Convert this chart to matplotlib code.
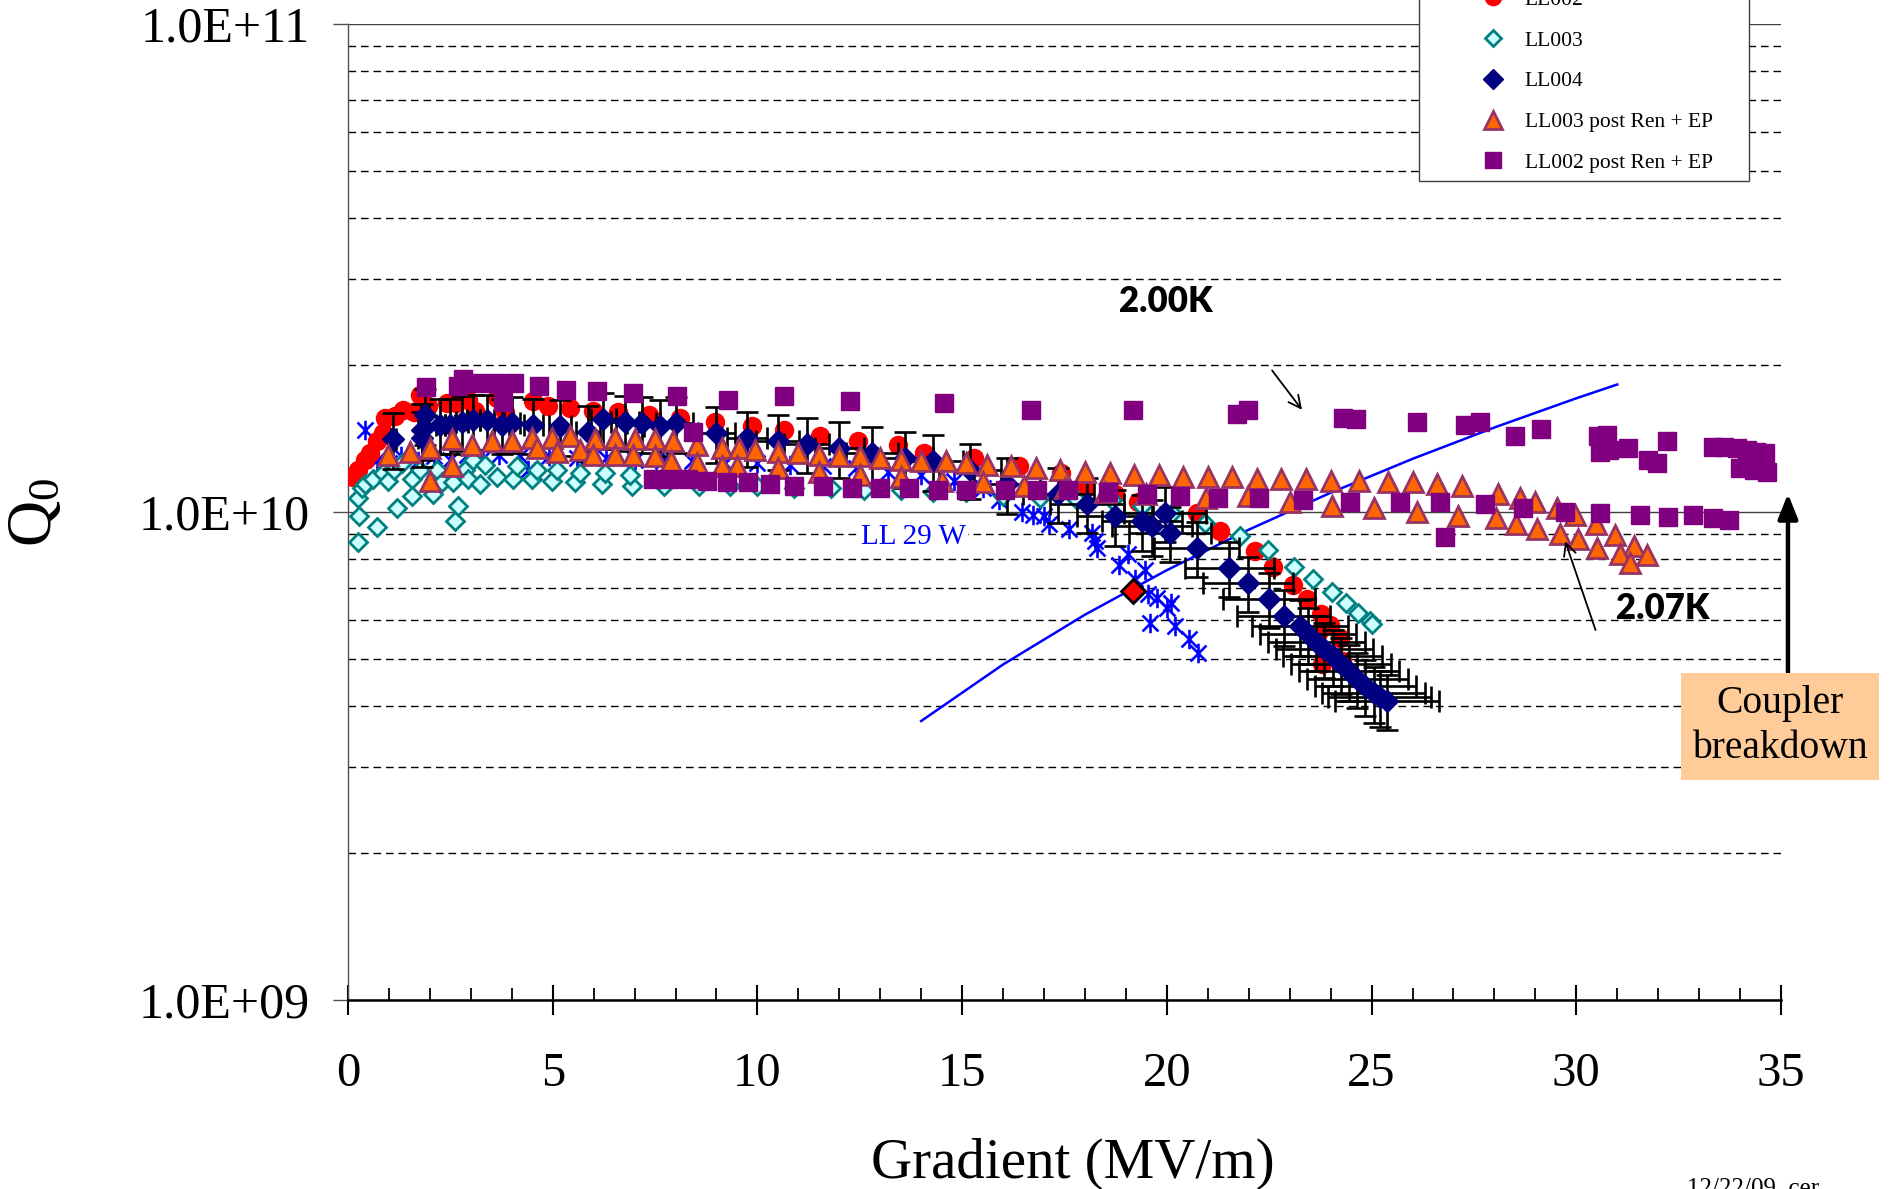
import matplotlib
matplotlib.use('Agg')
import matplotlib.pyplot as plt
from matplotlib.patches import Rectangle
from matplotlib.lines import Line2D
from matplotlib.path import Path
from matplotlib.ticker import MultipleLocator, LogLocator, NullFormatter

plt.rcParams['font.family'] = ['Liberation Serif', 'DejaVu Serif']
plt.rcParams['mathtext.fontset'] = 'custom'
plt.rcParams['mathtext.rm'] = 'Liberation Serif'
plt.rcParams['mathtext.it'] = 'Liberation Serif:italic'

W, H = 1891, 1189

# ---------------- data ----------------
# LL001 (blue stars)
ll001_grad = [0.42, 0.7, 1.0, 1.3, 1.7, 2.1, 2.5, 2.9, 3.3, 3.7, 4.2, 4.4, 4.9, 5.6, 6.3,
              7.0, 7.7, 8.4, 9.2, 10.0, 10.8, 11.6, 12.4, 13.2, 14.0, 14.8, 15.5, 15.9,
              16.46, 16.74, 17.0, 17.13, 17.6, 18.17, 18.25, 18.29, 18.82, 19.06, 19.22,
              19.47, 19.55, 19.59, 19.75, 20.0, 20.1, 20.2, 20.53, 20.77]
ll001_q0 = [1.47e10, 1.28e10, 1.26e10, 1.30e10, 1.27e10, 1.30e10, 1.28e10, 1.31e10, 1.29e10,
            1.31e10, 1.30e10, 1.22e10, 1.30e10, 1.29e10, 1.29e10, 1.28e10, 1.27e10, 1.27e10,
            1.26e10, 1.26e10, 1.25e10, 1.24e10, 1.23e10, 1.21e10, 1.19e10, 1.16e10, 1.12e10,
            1.06e10, 1.0e10, 9.84e9, 9.8e9, 9.46e9, 9.21e9, 9.06e9, 8.71e9, 8.45e9, 7.77e9,
            8.19e9, 7.28e9, 7.62e9, 6.78e9, 5.93e9, 6.67e9, 6.37e9, 6.5e9, 5.84e9, 5.48e9, 5.15e9]

# LL002 (red circles)
ll002_grad = [0.13, 0.25, 0.41, 0.54, 0.70, 0.86, 0.90, 1.15, 1.35, 1.60, 1.76, 1.96, 2.41,
              2.65, 2.94, 3.10, 3.63, 3.83, 4.53, 4.89, 5.42, 5.99, 6.60, 7.34, 8.11, 8.96,
              9.86, 10.64, 11.52, 12.46, 13.44, 14.08, 15.29, 16.38, 17.41, 18.0, 18.74, 19.3,
              20.73, 21.30, 22.15, 22.60, 23.09, 23.43, 23.76, 23.99, 24.23, 23.70, 23.78, 24.27]
ll002_q0 = [1.18e10, 1.22e10, 1.28e10, 1.32e10, 1.40e10, 1.45e10, 1.56e10, 1.57e10, 1.62e10,
            1.60e10, 1.74e10, 1.65e10, 1.67e10, 1.67e10, 1.70e10, 1.61e10, 1.71e10, 1.60e10,
            1.69e10, 1.65e10, 1.63e10, 1.61e10, 1.60e10, 1.58e10, 1.56e10, 1.53e10, 1.50e10,
            1.47e10, 1.43e10, 1.40e10, 1.37e10, 1.32e10, 1.29e10, 1.24e10, 1.20e10, 1.12e10,
            1.09e10, 1.05e10, 9.96e9, 9.14e9, 8.31e9, 7.72e9, 7.07e9, 6.64e9, 6.17e9, 5.88e9,
            5.52e9, 5.66e9, 4.88e9, 4.95e9]

# LL003 (teal open diamonds)
ll003_grad = [0.24, 0.27, 0.25, 0.33, 0.42, 0.62, 0.71, 0.86, 0.98, 1.13, 1.2, 1.31, 1.56,
              1.56, 1.76, 2.08, 2.17, 2.29, 2.57, 2.62, 2.69, 2.86, 2.93, 3.06, 3.22, 3.35,
              3.63, 4.04, 4.12, 4.49, 4.61, 4.98, 5.1, 5.54, 5.67, 6.2, 6.28, 6.93, 6.89, 7.72,
              8.57, 9.33, 10.0, 10.9, 11.8, 12.6, 13.5, 14.3, 15.1, 16.0, 16.9, 17.8, 18.65,
              19.4, 20.12, 20.93, 21.79, 22.48, 23.11, 23.56, 24.03, 24.37, 24.68, 24.96, 25.02]
ll003_q0 = [8.67e9, 9.83e9, 1.07e10, 1.12e10, 1.14e10, 1.17e10, 9.3e9, 1.20e10, 1.16e10,
            1.22e10, 1.02e10, 1.26e10, 1.17e10, 1.08e10, 1.22e10, 1.09e10, 1.22e10, 1.15e10,
            1.15e10, 9.6e9, 1.03e10, 1.22e10, 1.17e10, 1.28e10, 1.14e10, 1.25e10, 1.18e10,
            1.17e10, 1.24e10, 1.17e10, 1.22e10, 1.16e10, 1.22e10, 1.15e10, 1.20e10, 1.14e10,
            1.20e10, 1.13e10, 1.19e10, 1.13e10, 1.13e10, 1.13e10, 1.13e10, 1.12e10, 1.12e10,
            1.11e10, 1.11e10, 1.10e10, 1.10e10, 1.08e10, 1.07e10, 1.06e10, 1.06e10, 1.03e10,
            9.96e9, 9.5e9, 8.92e9, 8.34e9, 7.73e9, 7.30e9, 6.84e9, 6.52e9, 6.22e9, 5.97e9, 5.9e9]

# LL004 (navy diamonds with error bars)
ll004_grad = [1.11, 1.80, 1.80, 1.88, 2.25, 2.49, 2.78, 3.06, 3.39, 3.75, 4.0, 4.53, 5.18,
              5.87, 6.24, 6.77, 7.17, 7.62, 8.02, 9.0, 9.74, 10.5, 11.2, 12.0, 12.8, 13.6,
              14.3, 15.2, 16.09, 17.35, 18.04, 18.73, 19.39, 19.63, 19.96, 20.08, 20.73, 21.53,
              21.99, 22.5, 22.85, 23.25, 23.45, 23.65, 23.85, 24.05, 24.25, 24.45, 24.65, 24.85,
              25.05, 25.2, 25.37]
ll004_q0 = [1.41e10, 1.42e10, 1.47e10, 1.58e10, 1.51e10, 1.51e10, 1.53e10, 1.54e10, 1.54e10,
            1.51e10, 1.52e10, 1.51e10, 1.50e10, 1.46e10, 1.55e10, 1.53e10, 1.52e10, 1.50e10,
            1.52e10, 1.45e10, 1.42e10, 1.40e10, 1.38e10, 1.35e10, 1.32e10, 1.29e10, 1.27e10,
            1.22e10, 1.14e10, 1.09e10, 1.04e10, 9.81e9, 9.58e9, 9.35e9, 9.96e9, 9.06e9, 8.45e9,
            7.69e9, 7.16e9, 6.64e9, 6.12e9, 5.83e9, 5.62e9, 5.42e9, 5.24e9, 5.06e9, 4.88e9,
            4.72e9, 4.55e9, 4.40e9, 4.25e9, 4.17e9, 4.10e9]
ll004_grad_err_pct = 5.0   # measurement uncertainty
ll004_q0_err_pct = 13.0

# LL003 post Ren + EP (triangles), two runs
ll003p_grad_a = [0.98, 1.51, 2.0, 2.53, 3.02, 3.51, 4.0, 4.49, 4.98, 5.42, 6.03, 6.52, 7.0, 7.5,
                 7.95, 8.52, 9.13, 9.54, 9.95, 10.5, 11.0, 11.5, 12.0, 12.5, 13.0, 13.5, 14.0,
                 14.6, 15.1, 15.6, 16.2, 16.8, 17.4, 18.0, 18.6, 19.2, 19.8, 20.4, 21.0, 21.6,
                 22.2, 22.8, 23.4, 24.0, 24.7, 25.4, 26.0, 26.6, 27.2, 28.1, 28.63, 29.0, 29.52,
                 29.97, 30.48, 30.95, 31.41, 31.72]
ll003p_q0_a = [1.31e10, 1.33e10, 1.35e10, 1.41e10, 1.37e10, 1.40e10, 1.40e10, 1.42e10, 1.42e10,
               1.43e10, 1.41e10, 1.42e10, 1.41e10, 1.41e10, 1.40e10, 1.37e10, 1.35e10, 1.35e10,
               1.34e10, 1.33e10, 1.32e10, 1.31e10, 1.30e10, 1.30e10, 1.29e10, 1.28e10, 1.27e10,
               1.27e10, 1.26e10, 1.25e10, 1.24e10, 1.23e10, 1.22e10, 1.21e10, 1.20e10, 1.19e10,
               1.19e10, 1.18e10, 1.18e10, 1.18e10, 1.17e10, 1.17e10, 1.17e10, 1.16e10, 1.16e10,
               1.15e10, 1.15e10, 1.14e10, 1.13e10, 1.09e10, 1.07e10, 1.05e10, 1.02e10, 9.88e9,
               9.47e9, 8.99e9, 8.51e9, 8.15e9]
ll003p_grad_b = [2.0, 2.53, 4.61, 5.1, 5.67, 5.99, 6.52, 6.97, 7.5, 7.9, 8.52, 9.13, 9.5, 10.5,
                 11.5, 12.5, 13.5, 14.5, 15.5, 16.5, 17.5, 18.5, 19.5, 20.95, 21.98, 23.0,
                 24.04, 25.07, 26.1, 27.1, 28.04, 28.53, 29.03, 29.60, 30.05, 30.51, 31.06, 31.31]
ll003p_q0_b = [1.16e10, 1.24e10, 1.35e10, 1.33e10, 1.34e10, 1.31e10, 1.31e10, 1.31e10, 1.30e10,
               1.27e10, 1.26e10, 1.24e10, 1.24e10, 1.23e10, 1.21e10, 1.19e10, 1.18e10, 1.16e10,
               1.15e10, 1.13e10, 1.12e10, 1.10e10, 1.09e10, 1.07e10, 1.08e10, 1.05e10, 1.03e10,
               1.02e10, 1.0e10, 9.8e9, 9.73e9, 9.43e9, 9.25e9, 9.03e9, 8.79e9, 8.45e9, 8.22e9,
               7.87e9]

# LL002 post Ren + EP (squares), two runs
ll002p_grad_a = [1.91, 2.69, 2.82, 3.14, 3.59, 3.78, 4.05, 4.67, 5.32, 6.09, 6.97, 8.03, 8.43,
                 9.29, 10.64, 12.26, 14.56, 16.68, 19.18, 21.71, 21.99, 24.29, 24.63, 26.1,
                 27.28, 27.65, 28.5, 29.14, 30.54, 30.75, 30.58, 30.8, 31.26, 31.76, 31.98,
                 32.21, 33.35, 33.6, 33.92, 34.16, 34.4, 34.6, 34.0, 34.33, 34.65]
ll002p_q0_a = [1.80e10, 1.81e10, 1.87e10, 1.84e10, 1.84e10, 1.68e10, 1.84e10, 1.81e10, 1.78e10,
               1.77e10, 1.75e10, 1.73e10, 1.46e10, 1.70e10, 1.73e10, 1.69e10, 1.67e10, 1.62e10,
               1.62e10, 1.59e10, 1.62e10, 1.56e10, 1.55e10, 1.53e10, 1.51e10, 1.53e10, 1.43e10,
               1.48e10, 1.43e10, 1.44e10, 1.33e10, 1.34e10, 1.35e10, 1.28e10, 1.26e10, 1.40e10,
               1.36e10, 1.36e10, 1.35e10, 1.34e10, 1.33e10, 1.32e10, 1.23e10, 1.22e10, 1.21e10]
ll002p_grad_b = [7.46, 7.83, 8.31, 8.76, 9.25, 9.78, 10.3, 10.9, 11.6, 12.3, 13.0, 13.7, 14.4,
                 15.1, 16.05, 16.82, 17.59, 18.57, 19.51, 20.32, 21.26, 22.24, 23.33, 24.47,
                 25.70, 26.67, 26.8, 27.77, 28.71, 29.73, 30.58, 31.56, 32.23, 32.86, 33.35, 33.74]
ll002p_q0_b = [1.17e10, 1.17e10, 1.17e10, 1.16e10, 1.15e10, 1.15e10, 1.14e10, 1.13e10, 1.13e10,
               1.12e10, 1.12e10, 1.12e10, 1.11e10, 1.11e10, 1.11e10, 1.11e10, 1.11e10, 1.10e10,
               1.09e10, 1.08e10, 1.07e10, 1.07e10, 1.06e10, 1.05e10, 1.05e10, 1.05e10, 8.9e9,
               1.04e10, 1.02e10, 1.0e10, 9.96e9, 9.88e9, 9.76e9, 9.88e9, 9.73e9, 9.62e9]

# constant-power line, LL 29 W
ll29w_grad = [14, 16, 18, 20, 22, 24, 26, 28, 30, 31]
ll29w_q0 = [3.73e9, 4.87e9, 6.16e9, 7.6e9, 9.2e9, 1.095e10, 1.285e10, 1.49e10, 1.71e10, 1.825e10]

# single highlighted point
mark_grad = [19.18]
mark_q0 = [6.89e9]

ytick_vals = [1e9, 1e10, 1e11]
ytick_labels = ['1.0E+09', '1.0E+10', '1.0E+11']


def fx(px):
    return px / W


def fy(py):
    return 1 - py / H


# six-armed asterisk marker (Excel style)
star = Path([(-0.45, -0.45), (0.45, 0.45), (-0.45, 0.45), (0.45, -0.45), (0, -0.55), (0, 0.55)],
            [Path.MOVETO, Path.LINETO, Path.MOVETO, Path.LINETO, Path.MOVETO, Path.LINETO])

st_star = dict(marker=star, ms=14, mew=1.9, color='#0000FF')
st_red = dict(marker='o', ms=13, color='#FF0000')
st_teal = dict(marker='D', ms=9.2, mfc='#CCFFFF', mec='#008080', mew=2.0)
st_navy = dict(marker='D', ms=11, color='#000080')
st_tri = dict(marker='^', ms=14, mfc='#FF6600', mec='#993366', mew=2.0)
st_sq = dict(marker='s', ms=12.5, color='#800080')

fig = plt.figure(figsize=(W / 100, H / 100), dpi=100)
ax = fig.add_axes([fx(348), fy(1000), (1781 - 348) / W, (1000 - 24) / H])

ax.set_yscale('log')
ax.set_xlim(0, 35)
ax.set_ylim(1e9, 1e11)

ax.plot(ll29w_grad, ll29w_q0, color='#0000FF', lw=1.8, zorder=2)
ax.plot(ll001_grad, ll001_q0, ls='none', zorder=3, **st_star)
ax.plot(ll002_grad, ll002_q0, ls='none', zorder=4, **st_red)
ax.plot(ll003_grad, ll003_q0, ls='none', zorder=5, **st_teal)
ax.errorbar(ll004_grad, ll004_q0,
            xerr=[g * ll004_grad_err_pct / 100 for g in ll004_grad],
            yerr=[q * ll004_q0_err_pct / 100 for q in ll004_q0],
            fmt='none', ecolor='black', elinewidth=1.9, capsize=8, capthick=1.9, zorder=6)
ax.plot(ll004_grad, ll004_q0, ls='none', zorder=7, **st_navy)
ax.plot(ll003p_grad_a + ll003p_grad_b, ll003p_q0_a + ll003p_q0_b, ls='none', zorder=8, **st_tri)
ax.plot(ll002p_grad_a + ll002p_grad_b, ll002p_q0_a + ll002p_q0_b, ls='none', zorder=9, **st_sq)
ax.plot(mark_grad, mark_q0, ls='none', marker='D', ms=12.5, mfc='#FF0000', mec='black', mew=2,
        zorder=10)

# axes styling
for s in ['top', 'right']:
    ax.spines[s].set_visible(False)
ax.spines['left'].set_color('#505050')
ax.spines['left'].set_linewidth(1.0)
ax.spines['bottom'].set_color('black')
ax.spines['bottom'].set_linewidth(1.8)

ax.set_yticks(ytick_vals)
ax.set_yticklabels(ytick_labels)
ax.yaxis.set_minor_locator(LogLocator(base=10, subs=[2, 3, 4, 5, 6, 7, 8, 9]))
ax.yaxis.set_minor_formatter(NullFormatter())
ax.xaxis.set_major_locator(MultipleLocator(5))
ax.xaxis.set_minor_locator(MultipleLocator(1))

ax.tick_params(axis='y', which='major', direction='out', length=10.8, width=1.0,
               color='#505050', labelsize=36, pad=17)
ax.tick_params(axis='y', which='minor', length=0)
ax.tick_params(axis='x', which='major', direction='inout', length=21, width=1.5,
               labelsize=35, pad=27)
ax.tick_params(axis='x', which='minor', direction='in', length=8.5, width=1.3)

ax.set_axisbelow(True)
ax.yaxis.grid(True, which='major', color='#404040', lw=1.0, ls='-')
ax.yaxis.grid(True, which='minor', color='black', lw=1.0, ls=(0, (5.5, 3.5)))

ax.set_xlabel('Gradient (MV/m)', fontsize=41, va='center')
ax.xaxis.set_label_coords(0.506, -0.168)
ax.set_ylabel(r'Q$_\mathregular{0}$', fontsize=46, va='center')
ax.yaxis.set_label_coords(-0.2177, 0.5)

# annotations
ax.text(13.81, 8.87e9, 'LL 29 W', color='#0000FF', fontsize=21, ha='center', va='center',
        zorder=11, bbox=dict(facecolor='white', edgecolor='none', pad=1.5))
ax.text(19.97, 2.70e10, '2.00K', family=['Lato', 'DejaVu Sans'], fontweight='heavy',
        fontsize=25, ha='center', va='center')
ax.text(32.1, 6.34e9, '2.07K', family=['Lato', 'DejaVu Sans'], fontweight='heavy',
        fontsize=25, ha='center', va='center')
ax.annotate('', xy=(23.30, 1.62e10), xytext=(22.57, 1.95e10),
            arrowprops=dict(arrowstyle='->', lw=1.3, color='black', mutation_scale=22,
                            shrinkA=0, shrinkB=0))
ax.annotate('', xy=(29.73, 8.71e9), xytext=(30.47, 5.73e9),
            arrowprops=dict(arrowstyle='->', lw=1.3, color='black', mutation_scale=22,
                            shrinkA=0, shrinkB=0), zorder=12)
ax.annotate('', xy=(35.17, 1.09e10), xytext=(35.17, 4.69e9), annotation_clip=False,
            arrowprops=dict(arrowstyle='-|>,head_length=1.0,head_width=0.4', lw=3.2,
                            color='black', mutation_scale=15, shrinkA=0, shrinkB=0))

# coupler breakdown box
fig.add_artist(Rectangle((fx(1681), fy(780)), 198 / W, 107 / H, transform=fig.transFigure,
                         facecolor='#FFCC99', edgecolor='none', zorder=3))
fig.text(fx(1780), fy(726), 'Coupler\nbreakdown', fontsize=28.5, ha='center', va='center',
         linespacing=1.32, zorder=4)

# legend (top of the box runs off the figure)
fig.add_artist(Rectangle((fx(1419), fy(181)), 330 / W, 0.3, transform=fig.transFigure,
                         facecolor='white', edgecolor='#404040', lw=1.0, zorder=3))
handles = [Line2D([], [], ls='none', **st) for st in
           [st_star, st_red, st_teal, st_navy, st_tri, st_sq]]
labels = ['LL001', 'LL002', 'LL003', 'LL004', 'LL003 post Ren + EP', 'LL002 post Ren + EP']
leg = fig.legend(handles, labels, loc='lower left', bbox_to_anchor=(fx(1461), fy(183.6)),
                 frameon=False, borderpad=0, handlelength=2, handletextpad=0.45,
                 labelspacing=0.96, fontsize=15.5, numpoints=1, markerscale=0.9)
leg.set_zorder(5)

fig.text(fx(1687), fy(1178), '12/22/09  cer', fontsize=18, ha='left', va='top')

fig.savefig('out.png', dpi=100)
